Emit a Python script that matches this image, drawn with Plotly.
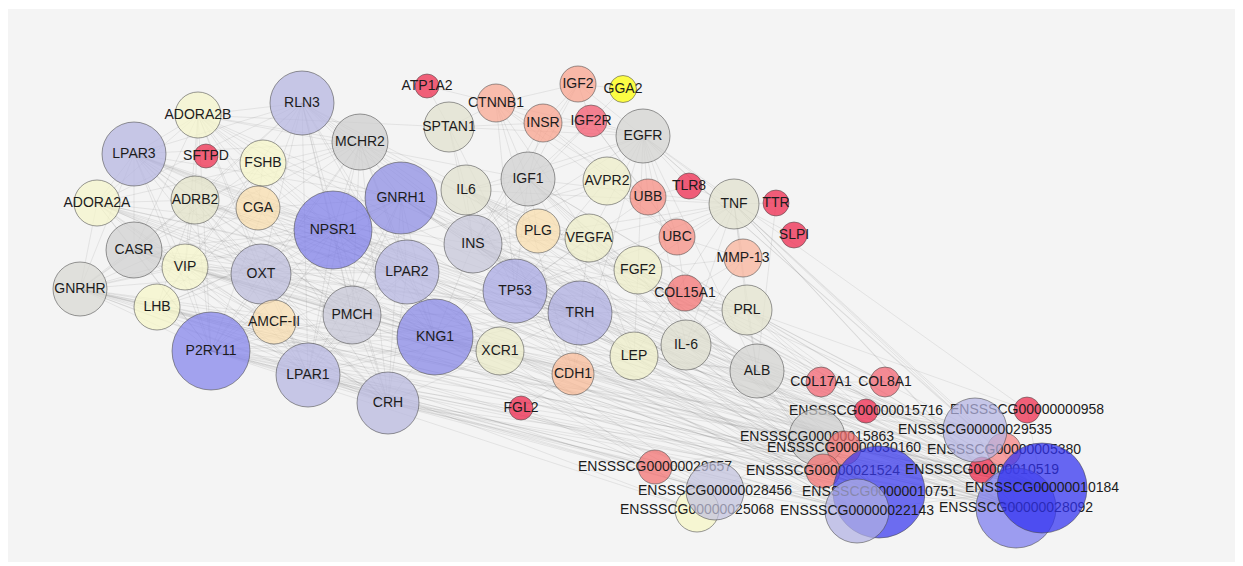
import plotly.graph_objects as go

# ---------------- data ----------------
node_ids = ["ADORA2B", "RLN3", "MCHR2", "LPAR3", "SFTPD", "FSHB", "ADORA2A", "ADRB2", "CGA",
            "NPSR1", "GNRH1", "CASR", "VIP", "OXT", "LPAR2", "IL6", "INS", "GNRHR", "LHB",
            "P2RY11", "AMCF-II", "PMCH", "LPAR1", "CRH", "TP53", "TRH", "KNG1", "XCR1", "CDH1",
            "LEP", "IL-6", "PRL", "ALB", "FGL2", "ATP1A2", "CTNNB1", "IGF2", "GGA2", "SPTAN1",
            "INSR", "IGF2R", "EGFR", "IGF1", "AVPR2", "UBB", "TLR8", "TNF", "TTR", "SLPI", "PLG",
            "VEGFA", "UBC", "MMP-13", "FGF2", "COL15A1", "COL17A1", "COL8A1",
            "E15716", "E00958", "E29657", "E25068", "E28456", "E15863", "E30160", "E21524",
            "E10751", "E22143", "E05380", "E10519", "E29535", "E28092", "E10184"]

node_labels = ["ADORA2B", "RLN3", "MCHR2", "LPAR3", "SFTPD", "FSHB", "ADORA2A", "ADRB2", "CGA",
               "NPSR1", "GNRH1", "CASR", "VIP", "OXT", "LPAR2", "IL6", "INS", "GNRHR", "LHB",
               "P2RY11", "AMCF-II", "PMCH", "LPAR1", "CRH", "TP53", "TRH", "KNG1", "XCR1", "CDH1",
               "LEP", "IL-6", "PRL", "ALB", "FGL2", "ATP1A2", "CTNNB1", "IGF2", "GGA2", "SPTAN1",
               "INSR", "IGF2R", "EGFR", "IGF1", "AVPR2", "UBB", "TLR8", "TNF", "TTR", "SLPI", "PLG",
               "VEGFA", "UBC", "MMP-13", "FGF2", "COL15A1", "COL17A1", "COL8A1",
               "ENSSSCG00000015716", "ENSSSCG00000000958", "ENSSSCG00000029657",
               "ENSSSCG00000025068", "ENSSSCG00000028456", "ENSSSCG00000015863",
               "ENSSSCG00000030160", "ENSSSCG00000021524", "ENSSSCG00000010751",
               "ENSSSCG00000022143", "ENSSSCG00000005380", "ENSSSCG00000010519",
               "ENSSSCG00000029535", "ENSSSCG00000028092", "ENSSSCG00000010184"]

node_x = [198, 302, 360, 134, 206, 263, 97, 195, 258,
          333, 401, 134, 185, 261, 407, 466, 473, 80, 157,
          211, 274, 352, 308, 388, 515, 580, 435, 500, 573,
          634, 686, 747, 757, 521, 427, 496, 578, 623, 449,
          543, 591, 643, 528, 607, 648, 689, 734, 776, 794, 538,
          589, 677, 743, 638, 685, 821, 885,
          866, 1027, 655, 697, 715, 817, 844, 823,
          879, 857, 1004, 982, 975, 1016, 1042]

node_y = [115, 103, 142, 154, 156, 163, 203, 200, 208,
          230, 198, 250, 267, 274, 272, 190, 244, 289, 307,
          351, 322, 315, 375, 403, 291, 313, 337, 351, 374,
          356, 345, 310, 371, 408, 86, 103, 84, 89, 127,
          123, 121, 136, 179, 181, 197, 186, 204, 203, 235, 231,
          238, 237, 258, 270, 293, 382, 382,
          411, 410, 467, 510, 491, 437, 448, 471,
          492, 511, 450, 470, 430, 508, 488]

node_diam = [46, 64, 56, 64, 24, 46, 46, 48, 44,
             78, 72, 56, 46, 60, 64, 50, 58, 54, 46,
             78, 44, 58, 64, 62, 64, 64, 76, 48, 42,
             48, 50, 50, 54, 24, 24, 38, 36, 27, 50,
             38, 32, 54, 54, 48, 36, 26, 50, 26, 26, 44,
             48, 36, 38, 48, 36, 30, 30,
             24, 26, 34, 44, 58, 56, 34, 34,
             92, 64, 34, 26, 64, 80, 90]

node_color = ["#f5f5d6", "#c6c6e6", "#d8d8d8", "#c6c6e6", "#f06078", "#f6f6d4", "#f5f5d6", "#e8e8d4", "#f8e4c0",
              "#9e9eec", "#a8a8e8", "#dadada", "#f6f6d6", "#cbcbe2", "#c6c6e6", "#e6e6d8", "#d2d2e0", "#e0e0dc", "#f6f6d4",
              "#a2a2ee", "#f8e4c2", "#d2d2de", "#c6c6e6", "#c8c8e4", "#bcbce8", "#c0c0e6", "#a4a4ea", "#eeeed4", "#f8cab0",
              "#f0f0d4", "#e4e4d8", "#e8e8d8", "#dcdcda", "#f05c78", "#f06078", "#f8bcac", "#f8b8a8", "#ffff40", "#e6e6d8",
              "#f8b8a8", "#f48090", "#dcdcda", "#dadada", "#f0f0d4", "#f6a8a0", "#f05c78", "#e6e6d8", "#f05c78", "#f05c78", "#f8e4c0",
              "#f0f0d4", "#f6a8a0", "#f8c4b2", "#f0f0d4", "#f49494", "#f48a94", "#f48a94",
              "#f05c78", "#f06078", "#f49494", "#f6f6d2", "#d0d0e4", "#d8d8d8", "#f49494", "#f49494",
              "#6c6cf0", "#c4c4e8", "#f6a0a0", "#f06078", "#c6c6e8", "#9c9cf0", "#6666f2"]

edge_lists = {
    "NPSR1": "LPAR3 LPAR2 LPAR1 GNRH1 RLN3 MCHR2 OXT PMCH CRH KNG1 P2RY11 TRH CASR ADORA2A ADORA2B ADRB2 VIP GNRHR LHB CGA FSHB XCR1 AMCF-II E10184 E10751 E28092 E22143 E29535 E28456",
    "P2RY11": "LPAR3 LPAR2 LPAR1 GNRH1 RLN3 MCHR2 OXT PMCH CRH KNG1 TRH CASR ADORA2A ADORA2B ADRB2 VIP GNRHR LHB XCR1 AMCF-II E10184 E10751 E28092 E22143 E29535 E28456 E15863 E25068 E29657",
    "KNG1": "LPAR3 LPAR2 LPAR1 GNRH1 RLN3 MCHR2 OXT PMCH CRH TRH CASR ADORA2A ADORA2B ADRB2 VIP GNRHR XCR1 PLG ALB INS E10184 E10751 E28092 E22143 E29535 E28456 E15863",
    "GNRH1": "LPAR3 LPAR2 LPAR1 RLN3 MCHR2 OXT PMCH CRH TRH GNRHR LHB CGA FSHB INS LEP PRL E10184 E10751 E28092 E22143",
    "LPAR3": "LPAR2 LPAR1 RLN3 MCHR2 OXT PMCH CRH TRH CASR ADORA2A ADORA2B ADRB2 VIP GNRHR E10184 E10751 E28092 E29535",
    "LPAR2": "LPAR1 RLN3 MCHR2 OXT PMCH CRH TRH CASR ADORA2A ADORA2B ADRB2 VIP E10184 E10751 E28092 E22143",
    "LPAR1": "RLN3 MCHR2 OXT PMCH CRH TRH CASR ADORA2A ADORA2B ADRB2 VIP GNRHR E10184 E10751 E28092 E22143 E28456 E29657",
    "RLN3": "MCHR2 OXT PMCH CRH TRH CASR ADORA2A ADORA2B ADRB2 VIP INS E10184 E28092",
    "MCHR2": "OXT PMCH CRH TRH CASR ADORA2A ADORA2B ADRB2 VIP E10184 E10751",
    "OXT": "PMCH CRH TRH CASR ADORA2A ADORA2B ADRB2 VIP GNRHR LHB AVPR2 E10184 E10751 E28092",
    "PMCH": "CRH TRH CASR ADORA2A ADORA2B ADRB2 VIP E10184 E22143",
    "CRH": "TRH CASR ADORA2A ADORA2B ADRB2 VIP GNRHR LHB E10184 E10751 E28092 E22143 E28456 E29657",
    "TRH": "CASR ADORA2A ADORA2B ADRB2 VIP INS PRL E10184 E10751 E28092",
    "CASR": "ADORA2A ADORA2B ADRB2 VIP GNRHR E10184 E10751 E29535",
    "ADORA2A": "ADORA2B ADRB2 VIP GNRHR E10184 E10751 E28092",
    "ADORA2B": "ADRB2 VIP SPTAN1 IGF1 E10184 E22143",
    "ADRB2": "VIP GNRHR LHB E10184 E10751 E28092",
    "VIP": "GNRHR LHB E10184 E10751 E28092 E22143",
    "GNRHR": "LHB CGA FSHB E10184 E10751 E28092 E22143 E29535 E28456 E15863 E21524",
    "LHB": "CGA FSHB E10184 E10751 E28092 E22143 E25068",
    "CGA": "FSHB INS PRL",
    "FSHB": "SFTPD",
    "XCR1": "AMCF-II E10184 E10751 E28092 E22143",
    "AMCF-II": "CASR VIP E10184 E28092",
    "INS": "IGF1 IGF2 INSR IGF2R EGFR TNF IL6 IL-6 VEGFA FGF2 ALB PRL LEP TP53 PLG AVPR2 SPTAN1 E10184 E10751 E28092 E22143 E15863",
    "IGF1": "IGF2 INSR IGF2R EGFR TNF IL6 IL-6 VEGFA FGF2 ALB PRL LEP TP53 CTNNB1 PLG E10184 E10751",
    "IGF2": "INSR IGF2R GGA2 EGFR CTNNB1",
    "IGF2R": "GGA2 INSR EGFR UBB UBC",
    "INSR": "EGFR CTNNB1 SPTAN1 UBB UBC",
    "EGFR": "TNF IL6 IL-6 VEGFA FGF2 ALB TP53 CTNNB1 CDH1 UBB UBC SPTAN1 TLR8 E10184 E29535 E00958",
    "TNF": "IL6 IL-6 VEGFA FGF2 ALB PRL LEP TP53 TLR8 TTR SLPI MMP-13 UBC E10184 E28092 E29535 E05380 E10519",
    "IL6": "IL-6 VEGFA FGF2 ALB LEP TP53 PLG SPTAN1 E10184 E10751 E22143",
    "IL-6": "VEGFA FGF2 ALB PRL LEP TP53 MMP-13 E10184 E28092 E15863 E21524",
    "VEGFA": "FGF2 ALB LEP TP53 PLG CDH1 CTNNB1 E10184 E10751",
    "FGF2": "ALB LEP TP53 COL15A1 MMP-13 E10184 E28092",
    "ALB": "PRL LEP TP53 PLG TTR E10184 E10751 E28092 E22143 E29535 E15863 E30160 E21524 E05380",
    "PRL": "LEP TP53 COL17A1 COL8A1 E10184 E28092 E29535 E15716 E00958",
    "LEP": "TP53 CDH1 E10184 E10751",
    "TP53": "CTNNB1 CDH1 UBB UBC E10184 E10751 E28092 E22143",
    "CTNNB1": "CDH1 SPTAN1 UBB UBC ATP1A2",
    "UBB": "UBC TLR8",
    "UBC": "MMP-13 COL15A1",
    "SPTAN1": "ATP1A2 CDH1",
    "COL15A1": "COL17A1 COL8A1 MMP-13",
    "COL17A1": "COL8A1 E15716",
    "FGL2": "CDH1 E29657",
    "E29657": "E28456 E25068 E15863 KNG1 NPSR1",
    "E28456": "E25068 E15863 E10751 E22143",
    "E10184": "E28092 E10751 E22143 E29535 E05380 E10519 E00958 E30160 E21524 E15863",
    "E10751": "E22143 E28092 E15863 E30160 E21524",
    "E28092": "E29535 E05380 E10519",
}

# ---------------- build ----------------
pos = {nid: (x, y) for nid, x, y in zip(node_ids, node_x, node_y)}
seen = set()
ex, ey = [], []
for src, tgts in edge_lists.items():
    for t in tgts.split():
        key = tuple(sorted((src, t)))
        if key in seen or src == t:
            continue
        seen.add(key)
        ex += [pos[src][0], pos[t][0], None]
        ey += [pos[src][1], pos[t][1], None]

ALPHA = 0.72
BG = 244


def fill(hexc):
    h = hexc.lstrip("#")
    rgb = [int(h[i:i + 2], 16) for i in (0, 2, 4)]
    base = [max(0, min(255, round((c - (1 - ALPHA) * BG) / ALPHA))) for c in rgb]
    return "rgba(%d,%d,%d,%.2f)" % (base[0], base[1], base[2], ALPHA)


fig = go.Figure()
fig.add_trace(go.Scatter(x=ex, y=ey, mode="lines",
                         line=dict(color="rgba(120,120,120,0.20)", width=0.7),
                         hoverinfo="skip", showlegend=False))

for nid, lab, x, y, d, c in zip(node_ids, node_labels, node_x, node_y, node_diam, node_color):
    fig.add_trace(go.Scatter(
        x=[x], y=[y], mode="markers+text", text=[lab], textposition="middle center",
        textfont=dict(family="Liberation Sans, Arial, sans-serif", size=14, color="#1c1c1c"),
        marker=dict(size=d, color=fill(c), line=dict(color="rgba(70,70,70,0.55)", width=1)),
        hoverinfo="text", name=lab, showlegend=False))

fig.update_layout(
    width=1243, height=566,
    margin=dict(l=0, r=11, t=1, b=12),
    paper_bgcolor="white", plot_bgcolor="#f4f4f4",
    xaxis=dict(range=[8, 1240], visible=False, fixedrange=True),
    yaxis=dict(range=[562, 9], visible=False, fixedrange=True),
    showlegend=False,
)

fig.write_html("out.html")
